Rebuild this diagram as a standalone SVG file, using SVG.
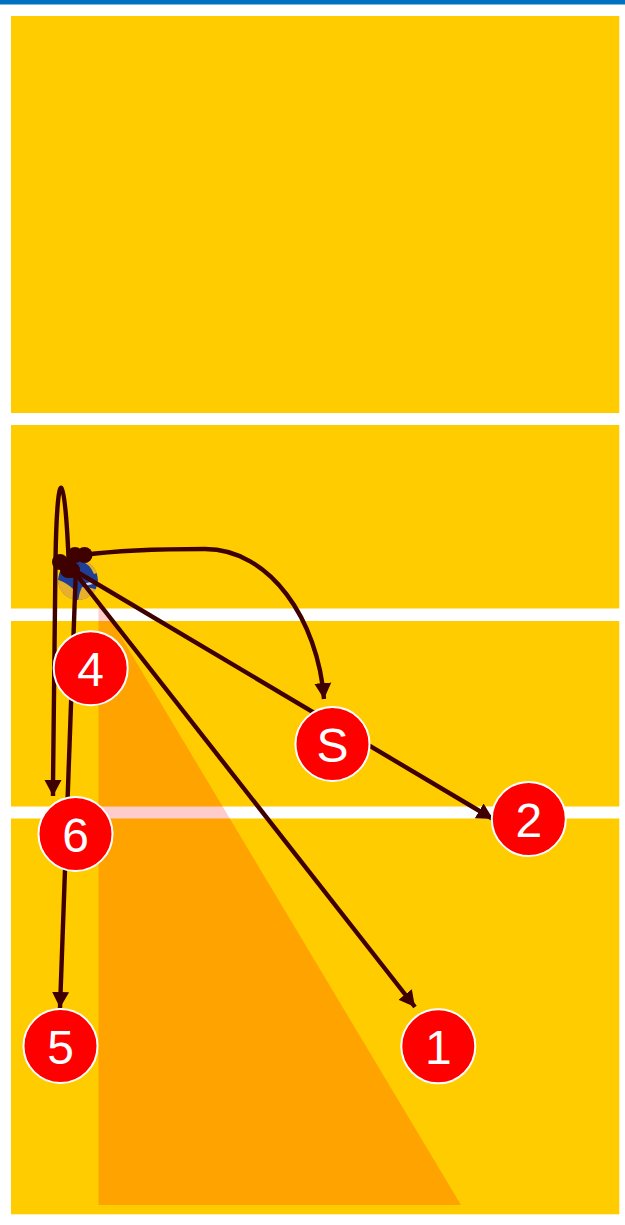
<svg xmlns="http://www.w3.org/2000/svg" width="625" height="1225" viewBox="0 0 625 1225">
<style>
.court{fill:#ffcc00}
.c{fill:none;stroke:#3f0000;stroke-width:4.400}
.dot{fill:#3f0000}
.p circle{fill:#ff0000;stroke:#ffffff;stroke-width:2}
.p text{fill:#ffffff;font-family:"Liberation Sans",Arial,sans-serif;font-size:48px;text-anchor:middle}
</style>
<defs>
<marker id="arrow" markerUnits="userSpaceOnUse" markerWidth="18" markerHeight="18" refX="16" refY="9" orient="auto"><path d="M0 0.500L16 9L0 17.500Z" fill="#3f0000"/></marker>
<clipPath id="ballclip"><circle cx="78" cy="580" r="20"/></clipPath>
</defs>
<rect width="625" height="1225" fill="#ffffff"/>
<rect width="625" height="4" fill="#0070c0"/>
<rect y="4" width="625" height="1" fill="#7fb7df"/>
<g id="court">
<rect class="court" x="11" y="16" width="608.300" height="397"/>
<rect class="court" x="11" y="425" width="608.300" height="183.500"/>
<rect class="court" x="11" y="621" width="608.300" height="185.500"/>
<rect class="court" x="11" y="818.500" width="608.300" height="395.800"/>
</g>
<path id="zone" d="M98.500 599L461 1205H98.500Z" fill="#ff0000" fill-opacity="0.2"/>
<g id="ball" clip-path="url(#ballclip)">
<circle cx="78" cy="580" r="20" fill="#1f3f94"/>
<path d="M80 558H100V572L94 574Q90 564 80 560Z" fill="#e6b02e"/>
<path d="M56 579Q68 583 74 590L73 602H56Z" fill="#e6b02e"/>
<path d="M78 602Q79 593 82 587Q90 587 98 590L94 602Z" fill="#e6b02e"/>
<path d="M83 584L94 581L93 584L85 586Z" fill="#cfd8ea"/>
</g>
<g id="connectors">
<path class="c" d="M53 785L55.500 560C57 462 65 462 69 570"/>
<path class="c" d="M53 780L53 796" marker-end="url(#arrow)"/>
<path class="c" d="M75.800 572L60 1008" marker-end="url(#arrow)"/>
<path class="c" d="M84 555C120 550 170 549 205 549C270 549 318 620 324 699" marker-end="url(#arrow)"/>
<path class="c" d="M72 569L493 819" marker-end="url(#arrow)"/>
<path class="c" d="M72 569L415 1007" marker-end="url(#arrow)"/>
<circle class="dot" cx="60" cy="562" r="8"/>
<circle class="dot" cx="75" cy="555" r="8"/>
<circle class="dot" cx="84.500" cy="555" r="8"/>
<circle class="dot" cx="68" cy="570" r="8"/>
<circle class="dot" cx="72" cy="570" r="8"/>
</g>
<g id="node-4" class="p"><circle cx="90.700" cy="668.200" r="37"/><text x="90.700" y="686">4</text></g>
<g id="node-s" class="p"><circle cx="332.500" cy="744" r="37"/><text x="332.500" y="761.500">S</text></g>
<g id="node-6" class="p"><circle cx="75.500" cy="834" r="37"/><text x="75.500" y="851.500">6</text></g>
<g id="node-2" class="p"><circle cx="528.800" cy="819" r="37"/><text x="528.800" y="836.500">2</text></g>
<g id="node-5" class="p"><circle cx="60.500" cy="1046" r="37"/><text x="60.500" y="1063.500">5</text></g>
<g id="node-1" class="p"><circle cx="438.300" cy="1046.300" r="37"/><text x="438.300" y="1064">1</text></g>
</svg>
